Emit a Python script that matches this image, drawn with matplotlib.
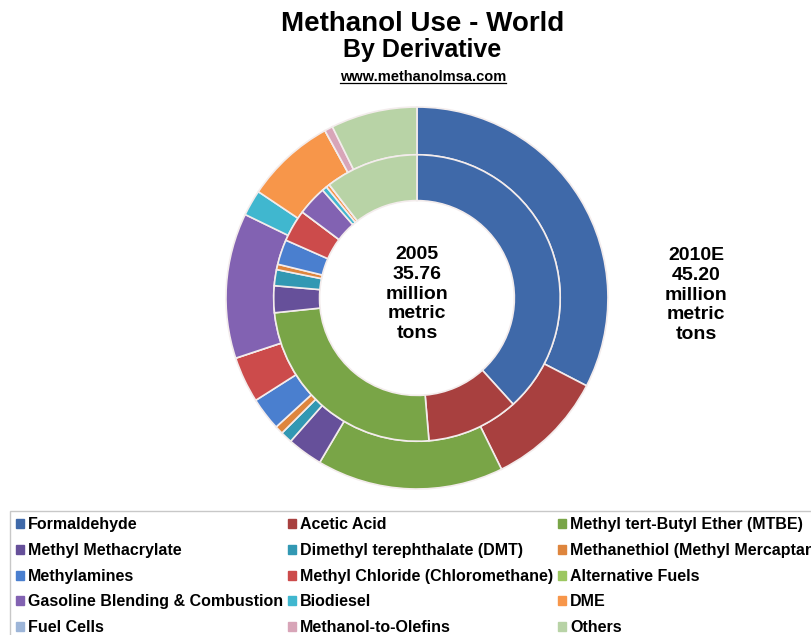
import matplotlib
matplotlib.use("Agg")
import matplotlib.pyplot as plt
from matplotlib.lines import Line2D

plt.rcParams['font.family'] = ['Liberation Sans', 'DejaVu Sans']
plt.rcParams['font.weight'] = 'bold'

# derivatives, in drawing order (clockwise from 12 o'clock)
derivatives = [
    "Formaldehyde", "Acetic Acid", "Methyl tert-Butyl Ether (MTBE)",
    "Methyl Methacrylate", "Dimethyl terephthalate (DMT)", "Methanethiol (Methyl Mercaptan)",
    "Methylamines", "Methyl Chloride (Chloromethane)", "Alternative Fuels",
    "Gasoline Blending & Combustion", "Biodiesel", "DME",
    "Fuel Cells", "Methanol-to-Olefins", "Others",
]
colors = [
    "#3F69A9", "#A8403F", "#79A547",
    "#66509A", "#3298B3", "#DE853D",
    "#4A7FCF", "#CC4B4B", "#9CC760",
    "#8262B2", "#40B7CF", "#F7964A",
    "#9DB5D8", "#D8A5B8", "#B8D3A6",
]

# share of world methanol use (%)
use_2005 = [38.0, 10.3, 24.5, 3.0, 1.8, 0.6, 2.8, 3.6, 0.0, 3.3, 0.55, 0.4, 0.0, 0.0, 10.4]
use_2010 = [32.6, 10.1, 15.8, 3.0, 1.0, 0.7, 2.8, 3.9, 0.0, 12.3, 2.2, 7.6, 0.0, 0.7, 7.3]

fig = plt.figure(figsize=(8.12, 6.35), dpi=100)
ax = fig.add_axes([0.2783, 0.2299, 0.4704, 0.6016])

edge = dict(edgecolor="#F3ECEC", linewidth=1.2)
ax.pie(use_2010, radius=1.0, colors=colors, startangle=90, counterclock=False,
       wedgeprops=dict(width=0.25, **edge))
ax.pie(use_2005, radius=0.75, colors=colors, startangle=90, counterclock=False,
       wedgeprops=dict(width=0.24, **edge))
ax.set_xlim(-1, 1)
ax.set_ylim(-1, 1)
ax.set_aspect("equal")

ax.text(0, 0.02, "2005\n35.76\nmillion\nmetric\ntons", ha="center", va="center",
        fontsize=14, fontweight="bold", linespacing=1.2)
fig.text(696 / 812, 1 - 295 / 635, "2010E\n45.20\nmillion\nmetric\ntons", ha="center", va="center",
         fontsize=14, fontweight="bold", linespacing=1.2)

# titles
fig.text(0.52, 0.962, "Methanol Use - World", ha="center", va="center", fontsize=20, fontweight="bold")
fig.text(0.52, 0.921, "By Derivative", ha="center", va="center", fontsize=18, fontweight="bold")
url = fig.text(0.521, 0.879, "www.methanolmsa.com", ha="center", va="center", fontsize=10.5, fontweight="bold")

# legend, filled row by row like the original
order = [i for c in range(3) for i in range(c, len(derivatives), 3)]
handles = [plt.Rectangle((0, 0), 1, 1, color=colors[i]) for i in order]
labels = [derivatives[i] for i in order]
leg = fig.legend(handles, labels, ncol=3, loc="upper left", bbox_to_anchor=(10 / 812, 1 - 511 / 635),
                 fontsize=11.5, frameon=True, fancybox=False, edgecolor="#BBBBBB",
                 handlelength=0.5, handleheight=0.5, handletextpad=0.25,
                 columnspacing=0.3, labelspacing=0.67, borderpad=0.4, borderaxespad=0)
leg.get_frame().set_linewidth(1.0)
for t in leg.get_texts():
    t.set_fontweight("bold")

# underline the url
fig.canvas.draw()
bb = url.get_window_extent().transformed(fig.transFigure.inverted())
fig.add_artist(Line2D([bb.x0, bb.x1], [bb.y0 + 0.002, bb.y0 + 0.002], color="black", linewidth=0.9,
                      transform=fig.transFigure))

fig.savefig("out.png", dpi=100)
